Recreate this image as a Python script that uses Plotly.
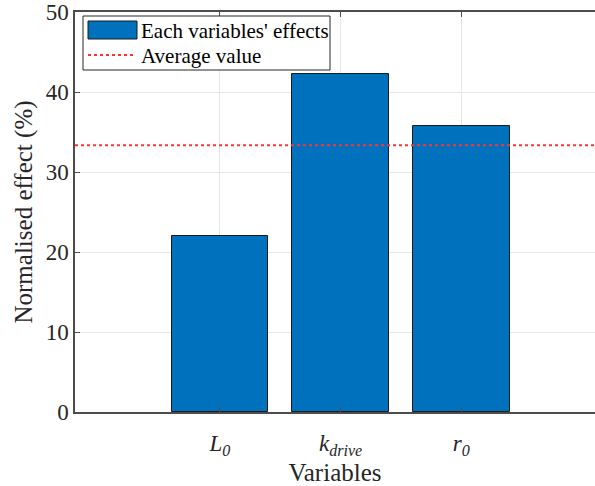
import numpy as np
import plotly.graph_objects as go

# ---- data ----
categories = [1, 2, 3]
tick_labels = ["<i>L</i><sub><i>0</i></sub>",
               "<i>k</i><sub><i>drive</i></sub>",
               "<i>r</i><sub><i>0</i></sub>"]
effects = [21.95, 42.25, 35.8]
y_ticks = [0, 10, 20, 30, 40, 50]
bar_name = "Each variables' effects"
avg_name = "Average value"

x_range = [-0.2, 4.107]
avg = float(np.mean(effects))

FONT = "Liberation Serif, Times New Roman, serif"
AX = "#4d4d4d"
TXT = "#262626"

fig = go.Figure()
fig.add_trace(go.Bar(
    x=categories, y=effects, width=0.8,
    marker=dict(color="#0072BD", line=dict(color="#1a1a1a", width=1)),
    name=bar_name, showlegend=False,
))
fig.add_trace(go.Scatter(
    x=x_range, y=[avg, avg], mode="lines",
    line=dict(color="#ff3333", width=2, dash="dot"),
    name=avg_name, showlegend=False,
))

# manual MATLAB-style legend (paper coords from pixel positions)
def px(xp):
    return (xp - 75) / 520.0

def py(yp):
    return (412 - yp) / 400.0

shapes = [
    dict(type="rect", xref="paper", yref="paper",
         x0=px(83), x1=px(330), y0=py(70), y1=py(16),
         line=dict(color="#262626", width=1), fillcolor="white", layer="above"),
    dict(type="rect", xref="paper", yref="paper",
         x0=px(88), x1=px(137), y0=py(39), y1=py(21),
         line=dict(color="#1a1a1a", width=1), fillcolor="#0072BD", layer="above"),
    dict(type="line", xref="paper", yref="paper",
         x0=px(88), x1=px(136), y0=py(55), y1=py(55),
         line=dict(color="#ff3333", width=2, dash="dot"), layer="above"),
]
annotations = [
    dict(xref="paper", yref="paper", x=px(139), y=py(31), text=bar_name,
         showarrow=False, xanchor="left", yanchor="middle",
         font=dict(family=FONT, size=21, color="black")),
    dict(xref="paper", yref="paper", x=px(139), y=py(56), text=avg_name,
         showarrow=False, xanchor="left", yanchor="middle",
         font=dict(family=FONT, size=21, color="black")),
]

fig.update_layout(
    width=595, height=486,
    margin=dict(l=75, r=0, t=12, b=74),
    paper_bgcolor="white", plot_bgcolor="white",
    font=dict(family=FONT, color=TXT),
    shapes=shapes, annotations=annotations,
    showlegend=False,
    bargap=0,
)
fig.update_xaxes(
    range=x_range, tickmode="array", tickvals=categories, ticktext=tick_labels,
    ticks="inside", ticklen=5, tickcolor=AX, tickwidth=1,
    showline=True, linecolor=AX, linewidth=1.5, mirror="ticks",
    showgrid=True, gridcolor="#e6e6e6", gridwidth=1, zeroline=False,
    tickfont=dict(family=FONT, size=23, color=TXT),
    ticklabelstandoff=10,
    title=dict(text="Variables", font=dict(family=FONT, size=25, color=TXT), standoff=8),
)
fig.update_yaxes(
    range=[0, 50.0001], tickmode="array", tickvals=y_ticks,
    ticks="inside", ticklen=5, tickcolor=AX, tickwidth=1,
    showline=True, linecolor=AX, linewidth=1.5, mirror=False,
    showgrid=True, gridcolor="#e6e6e6", gridwidth=1, zeroline=False,
    tickfont=dict(family=FONT, size=23, color=TXT),
    title=dict(text="Normalised effect (%)", font=dict(family=FONT, size=25, color=TXT), standoff=6),
)

fig.write_html("out.html", config={"displayModeBar": False},
               post_script="document.body.style.margin='0';")
